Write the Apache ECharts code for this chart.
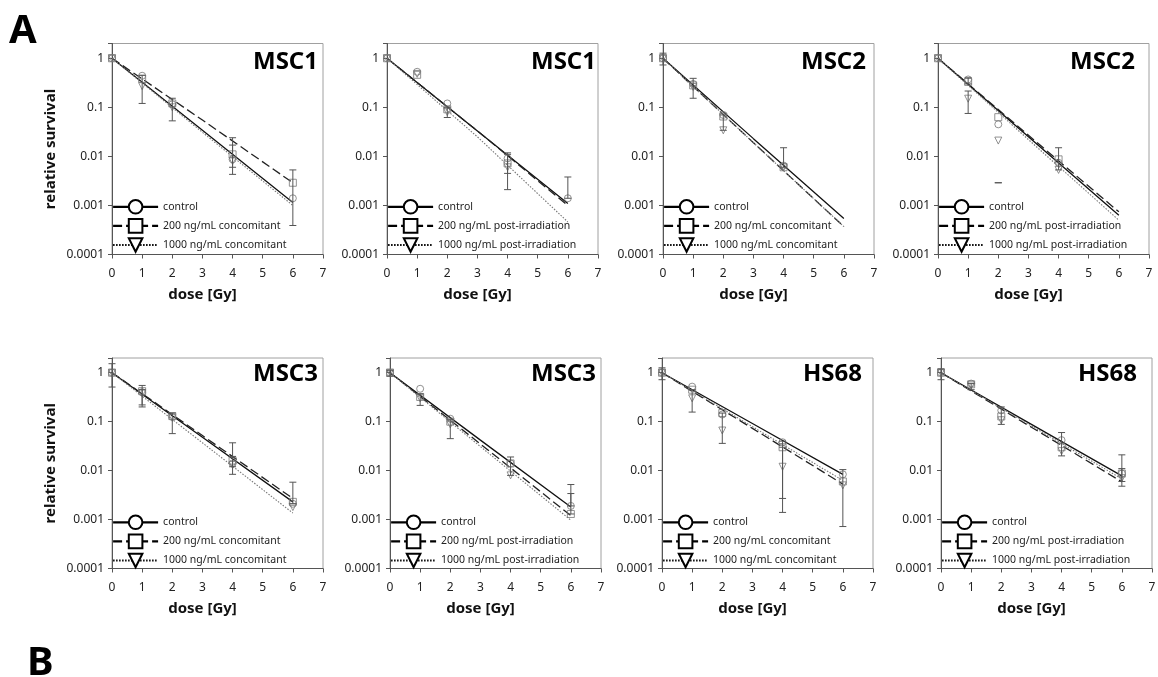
<!DOCTYPE html>
<html><head><meta charset="utf-8">
<script src="https://cdn.jsdelivr.net/npm/echarts@6/dist/echarts.min.js"></script>
<style>html,body{margin:0;padding:0;background:#fff}#c{width:1158px;height:677px}</style>
</head><body><div id="c"></div>
<script>
// ---------------- data ----------------
const panelTitles = ['MSC1','MSC1','MSC2','MSC2','MSC3','MSC3','HS68','HS68'];
const treatments  = ['concomitant','post-irradiation','concomitant','post-irradiation',
                     'concomitant','post-irradiation','concomitant','post-irradiation'];
const doses    = [0, 1, 2, 4, 6];        // measured doses [Gy]
const fitDoses = [0, 3, 6];              // doses where fitted curves were read
const xTicks   = [0, 1, 2, 3, 4, 5, 6, 7];
const yTickLabels = ['0.0001', '0.001', '0.01', '0.1', '1'];

// fitted curves: [control, 200 ng/mL, 1000 ng/mL] at fitDoses
const fitControl = [[1,0.034,0.00115],[1,0.033,0.0011],[1,0.023,0.00054],[1,0.025,0.00063],
                    [1,0.048,0.0023],[1,0.042,0.0018],[1,0.092,0.0084],[1,0.088,0.0078]];
const fit200     = [[1,0.055,0.0029],[1,0.033,0.001],[1,0.019,0.00037],[1,0.027,0.00074],
                    [1,0.052,0.0027],[1,0.035,0.0012],[1,0.073,0.0053],[1,0.077,0.0059]];
const fit1000    = [[1,0.031,0.001],[1,0.025,0.00046],[1,0.019,0.00037],[1,0.022,0.0005],
                    [1,0.037,0.00136],[1,0.031,0.00097],[1,0.079,0.0063],[1,0.082,0.0068]];

// measured means at doses (null = not visible)
const ptsControl = [[1,0.44,0.115,0.0087,0.0014],[1,0.53,0.12,0.0091,0.0014],[1,0.3,0.07,0.0065,null],[1,0.37,0.045,0.0074,null],
                    [1,0.4,0.125,0.014,0.0021],[1,0.47,0.115,0.014,0.0019],[1,0.52,0.14,0.038,0.0084],[1,0.6,0.17,0.042,0.0087]];
const pts200     = [[1,0.38,0.12,0.011,0.0029],[1,0.46,0.091,0.0072,null],[1,0.28,0.065,0.006,null],[1,0.33,0.063,0.0087,null],
                    [1,0.42,0.13,0.016,0.0023],[1,0.32,0.1,0.014,0.0013],[1,0.45,0.15,0.03,0.006],[1,0.58,0.128,0.03,0.0087]];
const pts1000    = [[1,0.27,0.1,0.008,null],[1,0.48,0.08,0.006,null],[1,0.26,0.034,0.006,null],[1,0.15,0.021,0.0053,null],
                    [1,0.38,0.12,0.013,0.0018],[1,0.3,0.088,0.008,null],[1,0.3,0.066,0.012,0.005],[1,0.55,0.107,0.025,0.007]];

// error bars: [dose, low, high]
const errBars = [
  [[1,0.12,0.45],[2,0.053,0.153],[4,0.0043,0.024],[4,0.006,0.017],[6,0.00039,0.0053]],
  [[2,0.062,0.1],[4,0.0021,0.0118],[4,0.0045,0.011],[6,0.0014,0.0038]],
  [[0,0.73,1.27],[1,0.153,0.39],[2,0.034,0.07],[4,0.006,0.015]],
  [[1,0.075,0.215],[1,0.3,0.4],[2,0.0029,0.0029],[4,0.0053,0.015]],
  [[0,0.51,1.53],[1,0.2,0.55],[1,0.22,0.45],[2,0.057,0.15],[4,0.0084,0.037],[4,0.012,0.0195],[6,0.0021,0.0058]],
  [[0,0.85,1.1],[1,0.215,0.37],[2,0.045,0.11],[4,0.008,0.019],[6,0.0013,0.0052],[6,0.0019,0.0034]],
  [[0,0.72,1.26],[1,0.157,0.45],[2,0.036,0.15],[4,0.0014,0.04],[4,0.0027,0.03],[6,0.00072,0.0105]],
  [[0,0.72,1.2],[1,0.45,0.6],[2,0.088,0.2],[4,0.02,0.06],[6,0.0048,0.021],[6,0.006,0.011]]
];

// ---------------- layout ----------------
const FONT = 'Noto Sans';
const gridLeft  = [112, 387, 663, 938, 112, 390, 662, 941];
const gridTop   = [43.5, 43.5, 43.5, 43.5, 358, 358, 358, 358];
const gridW = 211, gridH = [211, 211, 211, 211, 210.5, 210.5, 210.5, 210.5];
const titleRight = [840, 562, 292, 23, 840, 562, 296, 21];
const titleTop   = [50, 50, 50, 50, 362, 362, 362, 362];
const legendTop  = [199, 199, 199, 199, 514.5, 514.5, 514.5, 514.5];

const chart = echarts.init(document.getElementById('c'), null, {renderer: 'canvas'});

function yFmt(v) {
  const l = Math.log10(v), e = Math.round(l);
  if (Math.abs(l - e) > 1e-6 || e < -4 || e > 0) return '';
  return yTickLabels[e + 4];
}
function pairs(xs, ys) {
  const out = [];
  xs.forEach((x, k) => { if (ys[k] != null) out.push([x, ys[k]]); });
  return out;
}
function renderErr(params, api) {
  const x = api.value(0), lo = api.value(1), hi = api.value(2);
  const p1 = api.coord([x, lo]), p2 = api.coord([x, hi]);
  const w = 3.5;
  const style = {stroke: '#555', lineWidth: 1, fill: null};
  return {type: 'group', children: [
    {type: 'line', shape: {x1: p1[0], y1: p1[1], x2: p2[0], y2: p2[1]}, style},
    {type: 'line', shape: {x1: p1[0]-w, y1: p1[1], x2: p1[0]+w, y2: p1[1]}, style},
    {type: 'line', shape: {x1: p2[0]-w, y1: p2[1], x2: p2[0]+w, y2: p2[1]}, style}
  ]};
}

const grids = [], xAxes = [], yAxes = [], legends = [], titles = [], series = [];
const lineStyles = [
  {color: '#111', width: 1.3, type: 'solid'},
  {color: '#222', width: 1.3, type: [9, 4]},
  {color: '#777', width: 1.1, type: [1.5, 1.5]}
];
const symbols = ['circle', 'rect', 'path://M0,0L12,0L6,11Z'];

titles.push({text: 'A', left: 9, top: 12, padding: 0,
  textStyle: {fontFamily: FONT, fontSize: 40, fontWeight: 'bold', color: '#000'}});
titles.push({text: 'B', left: 27, top: 644, padding: 0,
  textStyle: {fontFamily: FONT, fontSize: 40, fontWeight: 'bold', color: '#000'}});

for (let i = 0; i < 8; i++) {
  const names = ['control', '200 ng/mL ' + treatments[i], '1000 ng/mL ' + treatments[i]];
  grids.push({left: gridLeft[i], top: gridTop[i], width: gridW, height: gridH[i],
    show: true, borderColor: '#a0a0a0', borderWidth: 1, backgroundColor: 'transparent',
    outerBoundsMode: 'none', containLabel: false});
  xAxes.push({type: 'value', gridIndex: i, min: xTicks[0], max: xTicks[xTicks.length-1], interval: 1,
    name: 'dose [Gy]', nameLocation: 'middle', nameGap: 33,
    nameTextStyle: {fontFamily: FONT, fontSize: 15, fontWeight: 'bold', color: '#111', padding: [0, 30, 0, 0]},
    axisLine: {show: true, onZero: false, lineStyle: {color: '#555', width: 1}},
    axisTick: {show: true, length: 4, lineStyle: {color: '#555'}},
    axisLabel: {fontFamily: FONT, fontSize: 12, color: '#222', margin: 13},
    splitLine: {show: false}});
  yAxes.push({type: 'log', logBase: 10, gridIndex: i, min: 0.0001, max: 2,
    name: (i === 0 || i === 4) ? 'relative survival' : '',
    nameLocation: 'middle', nameGap: 54, nameRotate: 90,
    nameTextStyle: {fontFamily: FONT, fontSize: 15, fontWeight: 'bold', color: '#111'},
    axisLine: {show: true, onZero: false, lineStyle: {color: '#555', width: 1}},
    axisTick: {show: true, length: 4, lineStyle: {color: '#555'}},
    axisLabel: {fontFamily: FONT, fontSize: 12, color: '#222', margin: 8, formatter: yFmt,
                showMinLabel: true, showMaxLabel: true},
    minorTick: {show: false},
    splitLine: {show: false}});
  titles.push({text: panelTitles[i], right: titleRight[i], top: titleTop[i], padding: 0,
    textStyle: {fontFamily: FONT, fontSize: 24, fontWeight: 'bold', color: '#000'}});
  legends.push({data: names, orient: 'vertical', left: gridLeft[i], top: legendTop[i], padding: 0,
    itemWidth: 45, itemHeight: 17, itemGap: 3.5, selectedMode: false,
    textStyle: {fontFamily: FONT, fontSize: 10.5, color: '#222'},
    itemStyle: {color: '#fff', borderColor: '#000', borderWidth: 2},
    lineStyle: {color: '#000', width: 2.2}});

  const fits = [fitControl[i], fit200[i], fit1000[i]];
  const pts = [ptsControl[i], pts200[i], pts1000[i]];
  for (let s = 0; s < 3; s++) {
    series.push({type: 'line', name: names[s], xAxisIndex: i, yAxisIndex: i,
      data: pairs(fitDoses, fits[s]), symbol: symbols[s],
      showSymbol: false, smooth: false, lineStyle: lineStyles[s], z: 2, silent: true, animation: false});
  }
  for (let s = 0; s < 3; s++) {
    series.push({type: 'scatter', name: names[s] + ' (data)', xAxisIndex: i, yAxisIndex: i,
      data: pairs(doses, pts[s]), symbol: symbols[s], symbolSize: 7,
      itemStyle: {color: 'rgba(0,0,0,0)', borderColor: '#777', borderWidth: 1},
      z: 3, silent: true, animation: false});
  }
  series.push({type: 'custom', name: 'error ' + i, xAxisIndex: i, yAxisIndex: i,
    data: errBars[i], encode: {x: 0, y: [1, 2]}, renderItem: renderErr, z: 4, silent: true, animation: false});
}

chart.setOption({
  backgroundColor: '#fff',
  animation: false,
  title: titles,
  grid: grids,
  xAxis: xAxes,
  yAxis: yAxes,
  legend: legends,
  tooltip: {show: false},
  series: series
});
</script>
</body></html>
